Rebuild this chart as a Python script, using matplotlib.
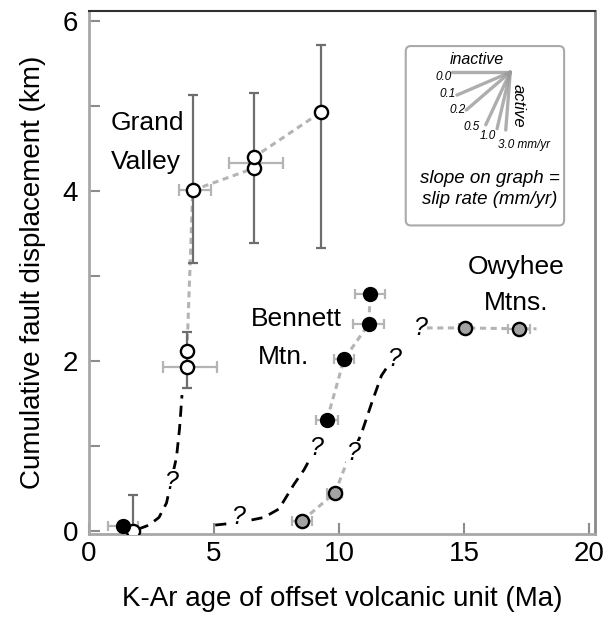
import numpy as np
import matplotlib.pyplot as plt
from matplotlib.patches import FancyBboxPatch

plt.rcParams['font.family'] = ['Liberation Sans', 'DejaVu Sans']

# ---- Grand Valley (open circles) ----
gv_age = [1.75, 3.92, 3.92, 4.15, 6.6, 6.6, 9.28]
gv_disp = [0.0, 1.93, 2.12, 4.01, 4.27, 4.40, 4.93]
gv_vbar_age = [1.75, 3.92, 4.15, 6.6, 9.28]
gv_vbar_lo = [0.0, 1.68, 3.15, 3.39, 3.33]
gv_vbar_hi = [0.42, 2.34, 5.13, 5.16, 5.72]
gv_hbar_disp = [1.93, 4.01, 4.33]
gv_hbar_lo = [2.96, 3.60, 5.60]
gv_hbar_hi = [5.12, 4.88, 7.76]
gv_guess_age = [1.95, 2.4, 2.8, 3.1, 3.3, 3.5, 3.62, 3.72]
gv_guess_disp = [0.02, 0.07, 0.16, 0.33, 0.6, 0.87, 1.2, 1.6]

# ---- Bennett Mtn. (filled black) ----
bm_age = [1.36, 9.52, 10.2, 11.2, 11.24]
bm_disp = [0.06, 1.31, 2.02, 2.44, 2.79]
bm_age_err = [0.6, 0.45, 0.4, 0.62, 0.6]
bm_guess_age = [5.05, 6.0, 7.0, 7.6, 8.2, 8.6, 9.08]
bm_guess_disp = [0.07, 0.1, 0.16, 0.26, 0.55, 0.72, 0.98]

# ---- Owyhee Mtns. (filled gray) ----
ow_age = [8.52, 9.84, 15.05, 17.2]
ow_disp = [0.12, 0.45, 2.39, 2.38]
ow_age_err = [0.4, 0.3, 0.25, 0.45]
ow_low_age = [8.52, 9.84, 10.3]
ow_low_disp = [0.12, 0.45, 0.8]
ow_top_age = [13.5, 15.05, 17.2, 17.9]
ow_top_disp = [2.39, 2.39, 2.38, 2.38]
ow_guess_age = [10.3, 10.56, 10.9, 11.3, 11.7, 12.2]
ow_guess_disp = [0.8, 0.92, 1.15, 1.5, 1.83, 2.05]

# question marks on the inferred parts
q_age = [3.28, 5.96, 9.08, 10.56, 12.2, 13.25]
q_disp = [0.58, 0.16, 0.98, 0.92, 2.03, 2.39]

# slip-rate key (mm/yr = km/Ma)
rates = [0.0, 0.1, 0.2, 0.5, 1.0, 3.0]
rate_labels = ['0.0', '0.1', '0.2', '0.5', '1.0', '3.0 mm/yr']

fig = plt.figure(figsize=(6.13, 6.22), dpi=100)
ax = fig.add_axes([0.1452, 0.1415, 0.8254, 0.8408])
ax.set_xlim(0, 20.24)
ax.set_ylim(-0.035, 6.12)

light = '#b4b4b4'
errc = '#6e6e6e'

# gray dashed connections
dash_gray = dict(color=light, lw=2.2, ls=(0, (2, 1.5)), zorder=1)
ax.plot(gv_age[2:], gv_disp[2:], **dash_gray)
ax.plot(bm_age[1:], bm_disp[1:], **dash_gray)
ax.plot(ow_low_age, ow_low_disp, **dash_gray)
ax.plot(ow_top_age, ow_top_disp, **dash_gray)

# error bars
mid = np.add(gv_vbar_lo, gv_vbar_hi) / 2
ax.errorbar(gv_vbar_age, mid, yerr=[mid - gv_vbar_lo, gv_vbar_hi - mid],
            fmt='none', ecolor=errc, elinewidth=1.6, capsize=3.5, capthick=1.6, zorder=2)
hmid = np.add(gv_hbar_lo, gv_hbar_hi) / 2
ax.errorbar(hmid, gv_hbar_disp, xerr=[hmid - gv_hbar_lo, gv_hbar_hi - hmid],
            fmt='none', ecolor=light, elinewidth=1.6, capsize=4, capthick=1.6, zorder=2)
ax.errorbar(bm_age, bm_disp, xerr=bm_age_err, fmt='none', ecolor=light,
            elinewidth=1.6, capsize=3.5, capthick=1.6, zorder=2)
ax.errorbar(ow_age, ow_disp, xerr=ow_age_err, fmt='none', ecolor=light,
            elinewidth=1.6, capsize=3.5, capthick=1.6, zorder=2)

# inferred (dashed black) curves
dash_blk = dict(color='black', lw=2, ls=(0, (4, 2.6)), zorder=3)
ax.plot(gv_guess_age, gv_guess_disp, **dash_blk)
ax.plot(bm_guess_age, bm_guess_disp, **dash_blk)
ax.plot(ow_guess_age, ow_guess_disp, **dash_blk)

for x, y in zip(q_age, q_disp):
    ax.text(x, y, '?', fontsize=18, style='italic', ha='center', va='center',
            zorder=4, bbox=dict(fc='white', ec='none', pad=0.2))

# points
ms = 9.5
ax.plot(gv_age, gv_disp, 'o', ms=ms, mfc='white', mec='black', mew=1.7, zorder=5)
ax.plot(bm_age, bm_disp, 'o', ms=ms, mfc='black', mec='black', mew=1.5, zorder=5)
ax.plot(ow_age, ow_disp, 'o', ms=ms, mfc='#a3a3a3', mec='black', mew=1.7, zorder=5)

# labels
ax.text(0.88, 4.8, 'Grand', fontsize=19, ha='left', va='center')
ax.text(0.88, 4.34, 'Valley', fontsize=19, ha='left', va='center')
ax.text(8.3, 2.5, 'Bennett', fontsize=19, ha='center', va='center')
ax.text(7.8, 2.05, 'Mtn.', fontsize=19, ha='center', va='center')
ax.text(17.1, 3.11, 'Owyhee', fontsize=19, ha='center', va='center')
ax.text(17.1, 2.68, 'Mtns.', fontsize=19, ha='center', va='center')

# slip-rate key
ax.add_patch(FancyBboxPatch((0.626, 0.59), 0.313, 0.343, transform=ax.transAxes,
                            boxstyle='round,pad=0,rounding_size=0.01',
                            fc='white', ec='#aaaaaa', lw=1.5, zorder=6))
x0, y0 = 16.85, 5.40
kx = ax.get_position().width * 613 / 20.24    # px per Ma
ky = ax.get_position().height * 622 / 6.155   # px per km
key_aspect = 4.3   # vertical exaggeration used in the key drawing
L = 58
label_offsets = [(-6.5, -3.6), (-6.5, 1.0), (-6, 0), (-10.5, -1.6), (-6.5, -5.5), (-5.5, -11)]
for r, lab, off in zip(rates, rate_labels, label_offsets):
    th = np.arctan(r * key_aspect)
    x1 = x0 - L * np.cos(th) / kx
    y1 = y0 - L * np.sin(th) / ky
    ax.plot([x0, x1], [y0, y1], color='#9a9a9a', lw=2.4, alpha=0.8,
            solid_capstyle='round', zorder=7)
    ax.annotate(lab, (x1, y1), xytext=off, textcoords='offset points',
                fontsize=8.5, style='italic', ha='center' if r < 2 else 'left',
                va='center', zorder=8)
ax.annotate('inactive', (x0, y0), xytext=(-24, 9), textcoords='offset points',
            fontsize=11.5, style='italic', ha='center', va='center', zorder=8)
ax.annotate('active', (x0, y0), xytext=(6, -24), textcoords='offset points',
            fontsize=12, style='italic', ha='center', va='center', rotation=270, zorder=8)
ax.text(0.792, 0.66, 'slope on graph =\nslip rate (mm/yr)', transform=ax.transAxes,
        fontsize=13.5, style='italic', ha='center', va='center', linespacing=1.3, zorder=8)

# axes styling
ax.set_xticks([0, 5, 10, 15, 20])
ax.set_yticks([0, 2, 4, 6])
ax.set_yticks([1, 3, 5], minor=True)
ax.tick_params(axis='both', which='both', direction='in', color='#8c8c8c',
               width=1.5, length=8, labelsize=20)
ax.tick_params(axis='x', pad=5)
ax.tick_params(axis='y', pad=8)
for side in ['left', 'bottom']:
    ax.spines[side].set_color('#a8a8a8')
    ax.spines[side].set_linewidth(2)
ax.spines['top'].set_color('#303030')
ax.spines['top'].set_linewidth(1.5)
ax.spines['right'].set_color('#8a8a8a')
ax.spines['right'].set_linewidth(2)

ax.set_xlabel('K-Ar age of offset volcanic unit (Ma)', fontsize=20, labelpad=14)
ax.set_ylabel('Cumulative fault displacement (km)', fontsize=20, labelpad=12)

fig.savefig('out.png', dpi=100)
